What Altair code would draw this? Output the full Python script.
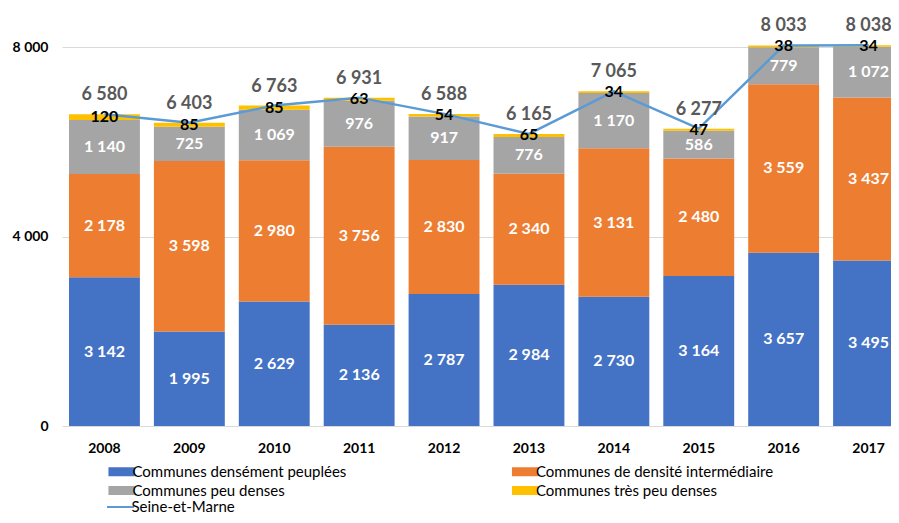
import altair as alt
import pandas as pd

years = ["2008", "2009", "2010", "2011", "2012", "2013", "2014", "2015", "2016", "2017"]
dense = [3142, 1995, 2629, 2136, 2787, 2984, 2730, 3164, 3657, 3495]
intermediate = [2178, 3598, 2980, 3756, 2830, 2340, 3131, 2480, 3559, 3437]
peu_denses = [1140, 725, 1069, 976, 917, 776, 1170, 586, 779, 1072]
tres_peu_denses = [120, 85, 85, 63, 54, 65, 34, 47, 38, 34]
seine_et_marne = [6580, 6403, 6763, 6931, 6588, 6165, 7065, 6277, 8033, 8038]

categories = [
    "Communes densément peuplées",
    "Communes de densité intermédiaire",
    "Communes peu denses",
    "Communes très peu denses",
]
colors = ["#4472C4", "#ED7D31", "#A5A5A5", "#FFC000"]
# legend fills column by column: order the legend domain so rows read as in the reference
legend_order = [0, 2, 1, 3]
line_name = "Seine-et-Marne"
line_color = "#5B9BD5"
FONT = "Lato"


def fmt(v):
    return f"{v:,}".replace(",", " ")


rows = []
for i, yr in enumerate(years):
    base = 0
    for k, (cat, series) in enumerate(zip(categories, [dense, intermediate, peu_denses, tres_peu_denses])):
        v = series[i]
        rows.append(dict(year=yr, cat=cat, order=k, value=v, start=base, end=base + v,
                         mid=base + v / 2, label=fmt(v)))
        base += v
df = pd.DataFrame(rows)
tot = pd.DataFrame(dict(year=years, total=seine_et_marne,
                        label=[fmt(v) for v in seine_et_marne], serie=line_name))

x_enc = alt.X("year:N", sort=years,
              scale=alt.Scale(paddingInner=0.165, paddingOuter=0.0825),
              axis=alt.Axis(title=None, labelAngle=0, labelFont=FONT, labelFontSize=14,
                            labelFontWeight="bold", labelColor="#000000", ticks=False,
                            domain=False, labelPadding=15, grid=False))


def y_enc(field):
    return alt.Y(field, type="quantitative",
                 scale=alt.Scale(domain=[0, 8000], nice=False),
                 axis=alt.Axis(title=None, values=[0, 4000, 8000], format=",d",
                               labelExpr="replace(datum.label, ',', ' ')",
                               grid=True, gridColor="#D9D9D9", gridWidth=1,
                               ticks=False, domain=False, labelPadding=14,
                               labelFont=FONT, labelFontSize=14, labelFontWeight="bold",
                               labelColor="#000000"))


bars = alt.Chart(df).mark_bar().encode(
    x=x_enc,
    y=y_enc("start"),
    y2="end:Q",
    color=alt.Color("cat:N",
                    scale=alt.Scale(domain=[categories[k] for k in legend_order],
                                    range=[colors[k] for k in legend_order]),
                    legend=alt.Legend(orient="none", legendX=52, legendY=417,
                                      columns=2, columnPadding=164.5, rowPadding=3,
                                      symbolType="M-2.9,-1H2.9V1H-2.9Z", symbolSize=81,
                                      symbolStrokeWidth=0, symbolOpacity=1,
                                      labelFont=FONT, labelFontSize=15, labelColor="#000000",
                                      labelOffset=3.5, title=None, padding=0,
                                      labelLimit=400)),
)

line = alt.Chart(tot).mark_line(strokeWidth=2.5).encode(
    x=x_enc,
    y=y_enc("total"),
    stroke=alt.Stroke("serie:N", scale=alt.Scale(domain=[line_name], range=[line_color]),
                      legend=alt.Legend(orient="none", legendX=51, legendY=452.5,
                                        symbolType="M-3,0H3", symbolSize=81,
                                        symbolStrokeWidth=2, labelFont=FONT,
                                        labelFontSize=15, labelColor="#000000",
                                        labelOffset=3.5, title=None, padding=0)),
)

inner_labels = alt.Chart(df).transform_filter("datum.order < 3").mark_text(
    font=FONT, fontSize=16, fontWeight="bold", color="#FFFFFF", baseline="middle"
).encode(x=x_enc, y=y_enc("mid"), text="label:N")

top_labels = alt.Chart(df).transform_filter("datum.order == 3").mark_text(
    font=FONT, fontSize=16, fontWeight="bold", color="#000000", baseline="middle"
).encode(x=x_enc, y=y_enc("mid"), text="label:N")

totals = alt.Chart(tot).mark_text(
    font=FONT, fontSize=18, fontWeight="bold", color="#595959", baseline="middle", dy=-19
).encode(x=x_enc, y=y_enc("total"), text="label:N")

chart = alt.layer(bars, line, inner_labels, top_labels, totals).properties(
    width=849, height=379,
    autosize=alt.AutoSizeParams(type="none"),
    padding={"left": 54, "top": 39, "right": -20, "bottom": 89},
    background="#FFFFFF",
).configure_view(stroke=None)

chart.save("out.html", embed_options={"renderer": "svg", "actions": False})
